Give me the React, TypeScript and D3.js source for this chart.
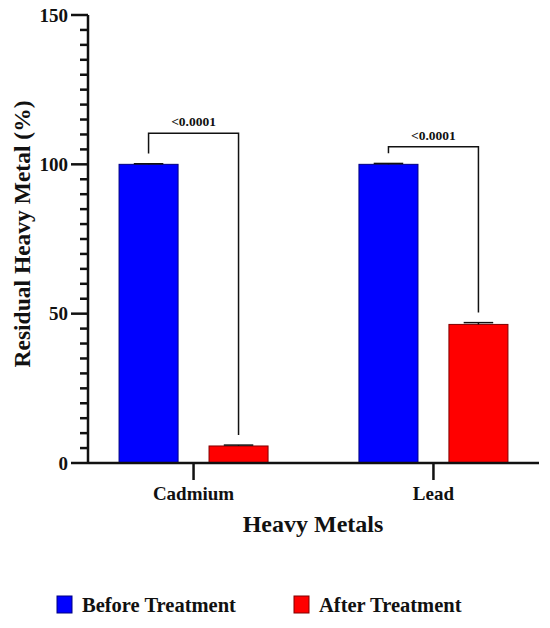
import React from "react";
import * as d3 from "d3";

const categories = ["Cadmium", "Lead"];
const seriesNames = ["Before Treatment", "After Treatment"];
const beforeValues = [100, 100];
const afterValues = [5.7, 46.4];
const beforeErrors = [0.2, 0.3];
const afterErrors = [0.3, 0.6];
const pLabels = ["<0.0001", "<0.0001"];
const bracketLevels = [110.4, 105.9];
const majorTicks = [0, 50, 100, 150];
const minorTicks = [5, 10, 15, 20, 25, 30, 35, 40, 45, 55, 60, 65, 70, 75, 80, 85, 90, 95, 105, 110, 115, 120, 125, 130, 135, 140, 145];
const seriesColors = ["#0000ff", "#ff0000"];
const seriesStrokes = ["#000080", "#800000"];

const W = 550;
const H = 628;
const FONT = "'Liberation Serif', 'Times New Roman', serif";
const INK = "#111";

export default function App() {
  const x = d3.scalePoint<string>().domain(categories).range([88, 539]).padding(0.44);
  const inner = d3
    .scaleBand<string>()
    .domain(seriesNames)
    .range([-74.5, 74.5])
    .paddingInner(0.344)
    .paddingOuter(0);
  const y = d3.scaleLinear().domain([0, 150]).range([463, 15]);
  const bw = inner.bandwidth();
  const values = [beforeValues, afterValues];
  const errors = [beforeErrors, afterErrors];
  const axisX = x.range()[0];
  const axisY = y(0);

  const barCenter = (c: string, s: string) => (x(c) as number) + (inner(s) as number) + bw / 2;

  return (
    <svg
      width={W}
      height={H}
      style={{ position: "absolute", left: 0, top: 0, background: "#fff" }}
    >
      {/* bars and error bars */}
      {seriesNames.map((s, si) =>
        categories.map((c, ci) => {
          const v = values[si][ci];
          const x0 = (x(c) as number) + (inner(s) as number);
          const cx = x0 + bw / 2;
          const top = y(v + errors[si][ci]);
          return (
            <g key={s + c}>
              <rect
                x={x0}
                y={y(v)}
                width={bw}
                height={y(0) - y(v)}
                fill={seriesColors[si]}
                stroke={seriesStrokes[si]}
                strokeWidth={1}
              />
              <line x1={cx} x2={cx} y1={y(v)} y2={top} stroke={INK} strokeWidth={1.5} />
              <line x1={cx - bw / 4} x2={cx + bw / 4} y1={top} y2={top} stroke={INK} strokeWidth={1.5} />
            </g>
          );
        })
      )}

      {/* significance brackets */}
      {categories.map((c, ci) => {
        const xl = barCenter(c, seriesNames[0]);
        const xr = barCenter(c, seriesNames[1]);
        const yTop = y(bracketLevels[ci]);
        const yl = y(beforeValues[ci] + beforeErrors[ci] + 3.4);
        const yr = y(afterValues[ci] + afterErrors[ci] + 3.4);
        return (
          <g key={"br" + c}>
            <path d={`M${xl},${yl}V${yTop}H${xr}V${yr}`} fill="none" stroke={INK} strokeWidth={1.5} />
            <text
              x={(xl + xr) / 2}
              y={yTop - 7}
              textAnchor="middle"
              fontFamily={FONT}
              fontWeight="bold"
              fontSize={13.5}
              fill={INK}
            >
              {pLabels[ci]}
            </text>
          </g>
        );
      })}

      {/* y axis */}
      <line x1={axisX} x2={axisX} y1={y(150)} y2={axisY} stroke={INK} strokeWidth={2.5} />
      {minorTicks.map((t) => (
        <line key={"m" + t} x1={axisX - 8} x2={axisX} y1={y(t)} y2={y(t)} stroke={INK} strokeWidth={2.5} />
      ))}
      {majorTicks.map((t) => (
        <g key={"M" + t}>
          <line x1={axisX - 17} x2={axisX} y1={y(t)} y2={y(t)} stroke={INK} strokeWidth={2.5} />
          <text
            x={axisX - 20}
            y={y(t)}
            dy="0.35em"
            textAnchor="end"
            fontFamily={FONT}
            fontWeight="bold"
            fontSize={19}
            fill={INK}
          >
            {t}
          </text>
        </g>
      ))}

      {/* x axis */}
      <line x1={axisX} x2={x.range()[1]} y1={axisY} y2={axisY} stroke={INK} strokeWidth={2.5} />
      {categories.map((c) => (
        <g key={"x" + c}>
          <line x1={x(c)} x2={x(c)} y1={axisY} y2={axisY + 17} stroke={INK} strokeWidth={2.5} />
          <text
            x={x(c)}
            y={axisY + 37}
            textAnchor="middle"
            fontFamily={FONT}
            fontWeight="bold"
            fontSize={19}
            fill={INK}
          >
            {c}
          </text>
        </g>
      ))}

      {/* axis titles */}
      <text
        transform="translate(30,234) rotate(-90)"
        textAnchor="middle"
        fontFamily={FONT}
        fontWeight="bold"
        fontSize={23.5}
        fill={INK}
      >
        Residual Heavy Metal (%)
      </text>
      <text x={313} y={532} textAnchor="middle" fontFamily={FONT} fontWeight="bold" fontSize={24} fill={INK}>
        Heavy Metals
      </text>

      {/* legend */}
      {seriesNames.map((s, si) => {
        const lx = [57, 294][si];
        return (
          <g key={"lg" + s}>
            <rect
              x={lx}
              y={596}
              width={15}
              height={17}
              fill={seriesColors[si]}
              stroke={seriesStrokes[si]}
              strokeWidth={1}
            />
            <text x={lx + 25} y={611.5} fontFamily={FONT} fontWeight="bold" fontSize={20.5} fill={INK}>
              {s}
            </text>
          </g>
        );
      })}
    </svg>
  );
}
